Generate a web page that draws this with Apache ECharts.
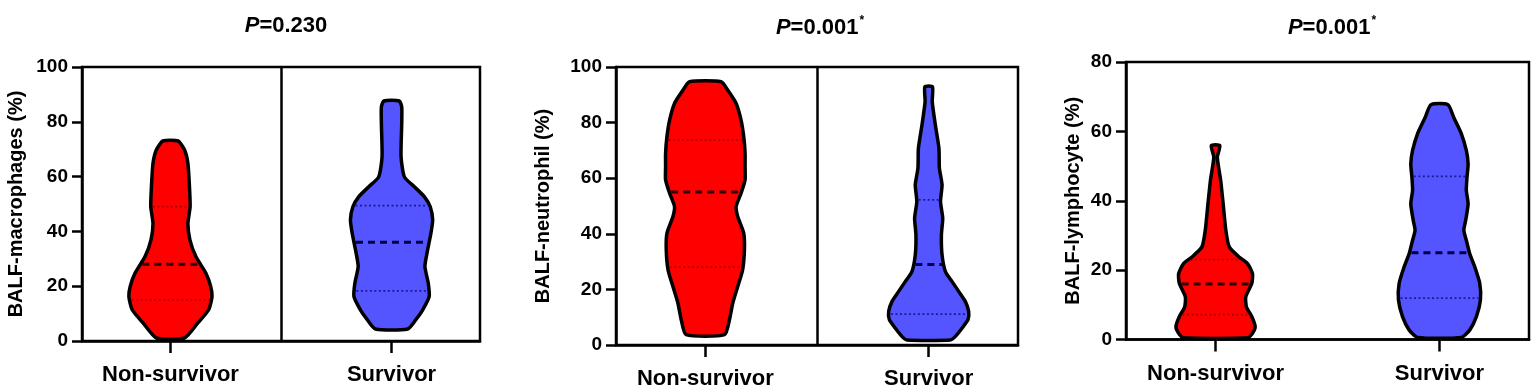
<!DOCTYPE html>
<html>
<head>
<meta charset="utf-8">
<script src="https://cdn.jsdelivr.net/npm/echarts@6/dist/echarts.min.js"></script>
<style>
  html, body { margin: 0; padding: 0; background: #fff; }
  #chart { width: 1535px; height: 391px; }
</style>
</head>
<body>
<div id="chart"></div>
<script>
const categories = ['Non-survivor', 'Survivor']
const pValues = ['0.230', '0.001', '0.001']
const pStars = ['', '*', '*']
const yNames = ['BALF-macrophages (%)', 'BALF-neutrophil (%)', 'BALF-lymphocyte (%)']
const yMax = [100, 100, 80]

// violin outlines: level (%) from top to bottom, half width (% of category spacing)
const macroNonY = [73, 69.7, 64.8, 56.3, 49, 42.9, 36.9, 30.8, 24.8, 19.9, 16.2, 11.4, 6.6, 1.1]
const macroNonW = [3.4, 6.4, 7.9, 8.6, 8.9, 7.9, 8.8, 11.5, 16.0, 18.2, 18.8, 17.3, 12.4, 6.4]
const macroSurY = [87.6, 85.4, 79.4, 67.2, 59.9, 56.3, 52.7, 49.0, 44.2, 39.3, 33.2, 27.2, 21.1, 16.2, 11.4, 7.8, 4.4]
const macroSurW = [3.5, 4.6, 4.6, 4.3, 5.8, 10.3, 14.8, 17.5, 18.6, 17.8, 16.3, 15.1, 16.6, 17.0, 14.1, 11.0, 7.3]

const neutNonY = [94.7, 91.7, 86.9, 80.9, 74.9, 68.9, 64.1, 59.4, 54.6, 49.8, 46.2, 40.2, 34.2, 27.0, 21.0, 15.1, 9.1, 3.7]
const neutNonW = [7.1, 10.0, 13.8, 16.0, 17.2, 17.8, 17.8, 17.8, 16.0, 13.8, 14.5, 17.2, 17.5, 16.7, 14.5, 12.3, 10.8, 8.6]
const neutSurY = [92.9, 87.5, 79.1, 70.7, 63.6, 57.6, 51.6, 45.6, 39.6, 32.4, 26.4, 22.8, 19.2, 15.7, 12.1, 9.1, 6.1, 3.1, 1.8]
const neutSurW = [1.7, 1.6, 3.0, 4.6, 4.8, 6.0, 5.3, 6.3, 5.7, 6.0, 7.5, 10.5, 13.5, 16.4, 17.9, 17.6, 15.0, 12.0, 9.7]

const lymphNonY = [55.9, 52.5, 45.8, 39.1, 31.5, 26.7, 23.8, 21.9, 19.0, 16.2, 12.3, 9.4, 6.6, 3.7, 1.8, 0.5]
const lymphNonW = [1.9, 0.8, 2.3, 3.4, 4.6, 6.1, 10.5, 14.3, 16.5, 16.2, 13.5, 13.8, 16.2, 17.7, 16.5, 14.3]
const lymphSurY = [67.7, 64.0, 59.3, 54.5, 50.6, 46.8, 43.0, 39.1, 34.3, 31.5, 28.6, 24.8, 20.9, 16.2, 11.4, 6.6, 2.7, 0.6]
const lymphSurW = [3.8, 6.4, 9.8, 12.0, 12.8, 12.3, 12.0, 12.8, 11.7, 10.9, 12.0, 13.5, 15.8, 18.0, 18.3, 16.5, 13.5, 9.8]

// quartiles: Q1, median, Q3
const macroNonQ = [15, 28, 49]
const macroSurQ = [18.3, 36, 49.4]
const neutNonQ = [28, 55, 73.7]
const neutSurQ = [11.1, 29, 52.2]
const lymphNonQ = [7.2, 16, 23]
const lymphSurQ = [11.9, 25, 47]

const RED = '#ff0000'
const BLUE = '#5555ff'
const FONT = 'Liberation Sans'

const myChart = echarts.init(document.getElementById('chart'))

function widthAt (ys, ws, v) {
  for (let i = 0; i < ys.length - 1; i++) {
    if (v <= ys[i] && v >= ys[i + 1]) {
      const t = (ys[i] - v) / (ys[i] - ys[i + 1])
      return ws[i] + (ws[i + 1] - ws[i]) * t
    }
  }
  return 0
}

function violin (grid, cat, ys, ws, q, fill, medColor, qColor, divider) {
  const s = {
    type: 'custom',
    xAxisIndex: grid,
    yAxisIndex: grid,
    clip: false,
    silent: true,
    data: [[cat, q[1]]],
    renderItem: function (params, api) {
      const pts = []
      for (let i = 0; i < ys.length; i++) pts.push(api.coord([cat + ws[i] / 100, ys[i]]))
      for (let i = ys.length - 1; i >= 0; i--) pts.push(api.coord([cat - ws[i] / 100, ys[i]]))
      const children = [{
        type: 'polygon',
        shape: { points: pts, smooth: 0.2 },
        style: { fill: fill, stroke: '#000', lineWidth: 3.5, lineJoin: 'round' }
      }]
      q.forEach(function (v, k) {
        const hw = widthAt(ys, ws, v) / 100
        const a = api.coord([cat - hw, v])
        const b = api.coord([cat + hw, v])
        const med = k === 1
        children.push({
          type: 'line',
          shape: { x1: a[0] + 2, y1: a[1], x2: b[0] - 2, y2: b[1] },
          style: {
            stroke: med ? medColor : qColor,
            lineWidth: med ? 3 : 1.8,
            lineDash: med ? [7, 5] : [2, 2.5]
          }
        })
      })
      return { type: 'group', children: children }
    }
  }
  if (divider) {
    s.markLine = {
      silent: true,
      symbol: 'none',
      label: { show: false },
      lineStyle: { color: '#000', width: 2.5, type: 'solid' },
      data: [{ xAxis: 0.5 }]
    }
  }
  return s
}

const grids = [
  { left: 82, right: 1055, top: 67, bottom: 50 },
  { left: 616, right: 517, top: 67, bottom: 46 },
  { left: 1126, right: 6, top: 62, bottom: 51.5 }
]
const nameGaps = [56, 63, 43]
const titleX = [281, 815, 1327]

myChart.setOption({
  animation: false,
  backgroundColor: '#fff',
  title: titleX.map(function (x, i) {
    return {
      left: x,
      top: 10,
      textAlign: 'center',
      text: '{i|P}{n|=' + pValues[i] + '}' + (pStars[i] ? '{s|' + pStars[i] + '}' : ''),
      textStyle: {
        rich: {
          i: { fontFamily: FONT, fontSize: 22, fontWeight: 'bold', fontStyle: 'italic', color: '#000' },
          n: { fontFamily: FONT, fontSize: 22, fontWeight: 'bold', color: '#000' },
          s: { fontFamily: FONT, fontSize: 12, fontWeight: 'bold', color: '#000', padding: [0, 0, 14, 1] }
        }
      }
    }
  }),
  grid: grids.map(function (g) {
    return Object.assign({ show: true, borderColor: '#000', borderWidth: 2.5 }, g)
  }),
  xAxis: [0, 1, 2].map(function (i) {
    return {
      type: 'value',
      gridIndex: i,
      min: -0.4,
      max: 1.4,
      splitLine: { show: false },
      axisLine: { show: true, onZero: false, lineStyle: { color: '#000', width: 2.5 } },
      axisTick: { show: true, customValues: [0, 1], length: 12, lineStyle: { color: '#000', width: 2.5 } },
      axisLabel: {
        customValues: [0, 1],
        formatter: function (v) { return categories[Math.round(v)] },
        margin: 23,
        color: '#000',
        fontFamily: FONT,
        fontSize: 22,
        fontWeight: 'bold'
      }
    }
  }),
  yAxis: [0, 1, 2].map(function (i) {
    return {
      type: 'value',
      gridIndex: i,
      min: 0,
      max: yMax[i],
      interval: 20,
      name: yNames[i],
      nameLocation: 'middle',
      nameRotate: 90,
      nameGap: nameGaps[i],
      nameTextStyle: { color: '#000', fontFamily: FONT, fontSize: 20, fontWeight: 'bold' },
      splitLine: { show: false },
      axisLine: { show: true, onZero: false, lineStyle: { color: '#000', width: 2.5 } },
      axisTick: { show: true, length: 10, lineStyle: { color: '#000', width: 2.5 } },
      axisLabel: { margin: 14, color: '#000', fontFamily: FONT, fontSize: 19, fontWeight: 'bold' }
    }
  }),
  series: [
    violin(0, 0, macroNonY, macroNonW, macroNonQ, RED, '#2a0000', 'rgba(110,0,0,0.55)', true),
    violin(0, 1, macroSurY, macroSurW, macroSurQ, BLUE, '#00004a', '#1a1a99', false),
    violin(1, 0, neutNonY, neutNonW, neutNonQ, RED, '#2a0000', 'rgba(110,0,0,0.55)', true),
    violin(1, 1, neutSurY, neutSurW, neutSurQ, BLUE, '#00004a', '#1a1a99', false),
    violin(2, 0, lymphNonY, lymphNonW, lymphNonQ, RED, '#2a0000', 'rgba(110,0,0,0.55)', false),
    violin(2, 1, lymphSurY, lymphSurW, lymphSurQ, BLUE, '#00004a', '#1a1a99', false)
  ]
})
</script>
</body>
</html>
